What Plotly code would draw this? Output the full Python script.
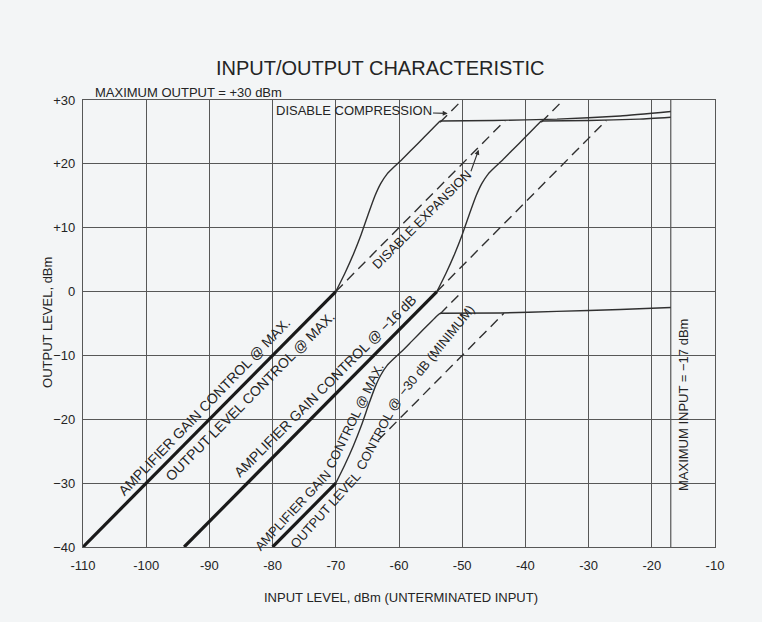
import plotly.graph_objects as go

# ---- axes -------------------------------------------------------------
x_ticks = [-110, -100, -90, -80, -70, -60, -50, -40, -30, -20, -10]
x_tick_text = ["-110", "-100", "-90", "-80", "-70", "-60", "-50", "-40", "-30", "-20", "-10"]
y_ticks = [-40, -30, -20, -10, 0, 10, 20, 30]
y_tick_text = ["\u221240", "\u221230", "\u221220", "\u221210", "0", "+10", "+20", "+30"]
max_input_dbm = -17
max_output_dbm = 30

# ---- linear sections (heavy lines) -------------------------------------
gain_max_x = [-110, -70]
gain_max_y = [-40, 0]
gain_16_x = [-94, -54]
gain_16_y = [-40, 0]
out_min_x = [-80, -70]
out_min_y = [-40, -30]

# ---- expansion rise + compression plateau (light lines) ----------------
# amplifier gain @ max, output level @ max
rise_max_x = [-70, -68.6, -67.2, -66.0, -64.8, -63.8, -62.9, -61.9, -60.8, -59.6, -58.0, -56.0, -54.4, -53.5]
rise_max_y = [0, 2.8, 5.9, 8.9, 12.3, 15.0, 16.9, 18.4, 19.5, 20.6, 22.2, 24.2, 25.8, 26.7]
flat_max_x = [-53.5, -45, -35, -25, -17]
flat_max_y = [26.7, 26.8, 27.0, 27.5, 28.2]

# amplifier gain @ -16 dB
rise_16_x = [-54, -52.6, -51.2, -50.0, -48.8, -47.8, -46.9, -45.9, -44.8, -43.6, -42.0, -40.0, -38.4, -37.5]
rise_16_y = [0, 2.8, 5.9, 8.9, 12.3, 15.0, 16.9, 18.4, 19.5, 20.6, 22.2, 24.2, 25.8, 26.7]
flat_16_x = [-37.5, -30, -22, -17]
flat_16_y = [26.7, 26.8, 27.0, 27.3]

# output level @ -30 dB (minimum)
rise_min_x = [-70, -68.6, -67.2, -66.0, -64.8, -63.8, -62.9, -61.9, -60.8, -59.6, -58.0, -56.0, -54.4, -53.5]
rise_min_y = [-30, -27.2, -24.1, -21.1, -17.7, -15.0, -13.1, -11.6, -10.5, -9.4, -7.8, -5.8, -4.2, -3.4]
flat_min_x = [-53.5, -44, -35, -25, -17]
flat_min_y = [-3.4, -3.35, -3.1, -2.8, -2.5]

# ---- "disable" paths (dashed) ------------------------------------------
no_comp_max_x = [-53.5, -50.0]
no_comp_max_y = [26.5, 30.0]
no_exp_max_x = [-70, -43.2]
no_exp_max_y = [0, 26.8]
no_comp_16_x = [-37.5, -34.0]
no_comp_16_y = [26.5, 30.0]
no_exp_16_x = [-54, -27.2]
no_exp_16_y = [0, 26.8]
no_comp_min_x = [-53.5, -50.0]
no_comp_min_y = [-3.5, 0.0]
no_exp_min_x = [-63.3, -43.4]
no_exp_min_y = [-23.3, -3.4]

INK = "#1a1a1a"
THIN = "#303030"
GRID = "#575757"
TEXT = "#242424"
PAPER = "#f3f5f6"
FONT = "Liberation Sans, Arial, sans-serif"

fig = go.Figure()


def add_line(x, y, width, color, dash="solid", spline=False):
    line = dict(color=color, width=width, dash=dash)
    if spline:
        line.update(shape="spline", smoothing=0.5)
    fig.add_trace(go.Scatter(x=x, y=y, mode="lines", line=line,
                             hoverinfo="skip", showlegend=False))


for xs, ys in [(no_comp_max_x, no_comp_max_y), (no_exp_max_x, no_exp_max_y),
               (no_comp_16_x, no_comp_16_y), (no_exp_16_x, no_exp_16_y),
               (no_comp_min_x, no_comp_min_y), (no_exp_min_x, no_exp_min_y)]:
    add_line(xs, ys, 1.4, THIN, dash="10px,6px")

for xs, ys in [(rise_max_x, rise_max_y), (rise_16_x, rise_16_y), (rise_min_x, rise_min_y)]:
    add_line(xs, ys, 1.4, THIN, spline=True)
for xs, ys in [(flat_max_x, flat_max_y), (flat_16_x, flat_16_y), (flat_min_x, flat_min_y)]:
    add_line(xs, ys, 1.4, THIN, spline=True)

for xs, ys in [(gain_max_x, gain_max_y), (gain_16_x, gain_16_y), (out_min_x, out_min_y)]:
    add_line(xs, ys, 3.2, INK)

# maximum-input limit
fig.add_shape(type="line", x0=max_input_dbm, x1=max_input_dbm, y0=-40, y1=max_output_dbm,
              xref="x", yref="y", line=dict(color=GRID, width=1.2), layer="below")


def label(text, x, y, angle=0, size=14, **kw):
    fig.add_annotation(text=text, x=x, y=y, xref="x", yref="y", textangle=angle,
                       xanchor="center", yanchor="middle", showarrow=False,
                       font=dict(family=FONT, size=size, color=TEXT), **kw)


label("AMPLIFIER GAIN CONTROL @ MAX.", -90.9, -18.0, -46)
label("OUTPUT LEVEL CONTROL @ MAX.", -83.5, -16.4, -45)
label("AMPLIFIER GAIN CONTROL @ \u221216 dB", -71.7, -14.8, -45)
# labels that bend along the minimum-output curve
label("AMPLIFIER GAIN", -76.8, -34.3, -47, size=13)
label("CONTROL @ MAX.", -67.1, -19.5, -64, size=13)
label("OUTPUT LEVEL", -71.7, -34.3, -48, size=13)
label("CONTROL @", -63.2, -22.3, -62, size=13)
label("\u221230 dB (MINIMUM)", -54.1, -9.2, -51, size=13)
label("DISABLE EXPANSION", -56.4, 11.3, -45, size=13)
label("MAXIMUM INPUT = \u221217 dBm", -15.1, -17.8, -90, size=13)

# DISABLE COMPRESSION with its pointer
fig.add_annotation(text="DISABLE COMPRESSION", x=-52.3, y=27.9, ax=-67.2, ay=28.3,
                   xref="x", yref="y", axref="x", ayref="y", showarrow=True,
                   arrowhead=2, arrowsize=0.9, arrowwidth=1.1, arrowcolor=THIN,
                   font=dict(family=FONT, size=13, color=TEXT))
# pointer from DISABLE EXPANSION to its dashed path
fig.add_annotation(text="", x=-47.4, y=22.2, ax=-48.7, ay=18.6,
                   xref="x", yref="y", axref="x", ayref="y", showarrow=True,
                   arrowhead=2, arrowsize=0.9, arrowwidth=1.1, arrowcolor=THIN)


def page_text(text, x, y, size=13, angle=0, xanchor="center"):
    fig.add_annotation(text=text, x=x, y=y, xref="paper", yref="paper",
                       xanchor=xanchor, yanchor="middle", textangle=angle,
                       showarrow=False, font=dict(family=FONT, size=size, color=TEXT))


page_text("INPUT/OUTPUT CHARACTERISTIC", 0.47, 1.0716, size=20)
page_text("MAXIMUM OUTPUT = +30 dBm", 0.0153, 1.0163, xanchor="left")
page_text("INPUT LEVEL, dBm (UNTERMINATED INPUT)", 0.503, -0.112)
page_text("OUTPUT LEVEL, dBm", -0.0574, 0.503, angle=-90)

axis_common = dict(showgrid=True, gridcolor=GRID, gridwidth=1.1, zeroline=False,
                   showline=True, mirror=True, linecolor=GRID, linewidth=1.3,
                   ticks="", tickfont=dict(family=FONT, size=13, color=TEXT))

fig.update_xaxes(range=[-110, -10], tickvals=x_ticks, ticktext=x_tick_text,
                 ticklabelstandoff=6, **axis_common)
fig.update_yaxes(range=[-40, 30], tickvals=y_ticks, ticktext=y_tick_text,
                 ticklabelstandoff=4, **axis_common)

fig.update_layout(width=762, height=622, margin=dict(l=83, r=47, t=100, b=75),
                  paper_bgcolor=PAPER, plot_bgcolor=PAPER, showlegend=False)

fig.write_html("out.html")
